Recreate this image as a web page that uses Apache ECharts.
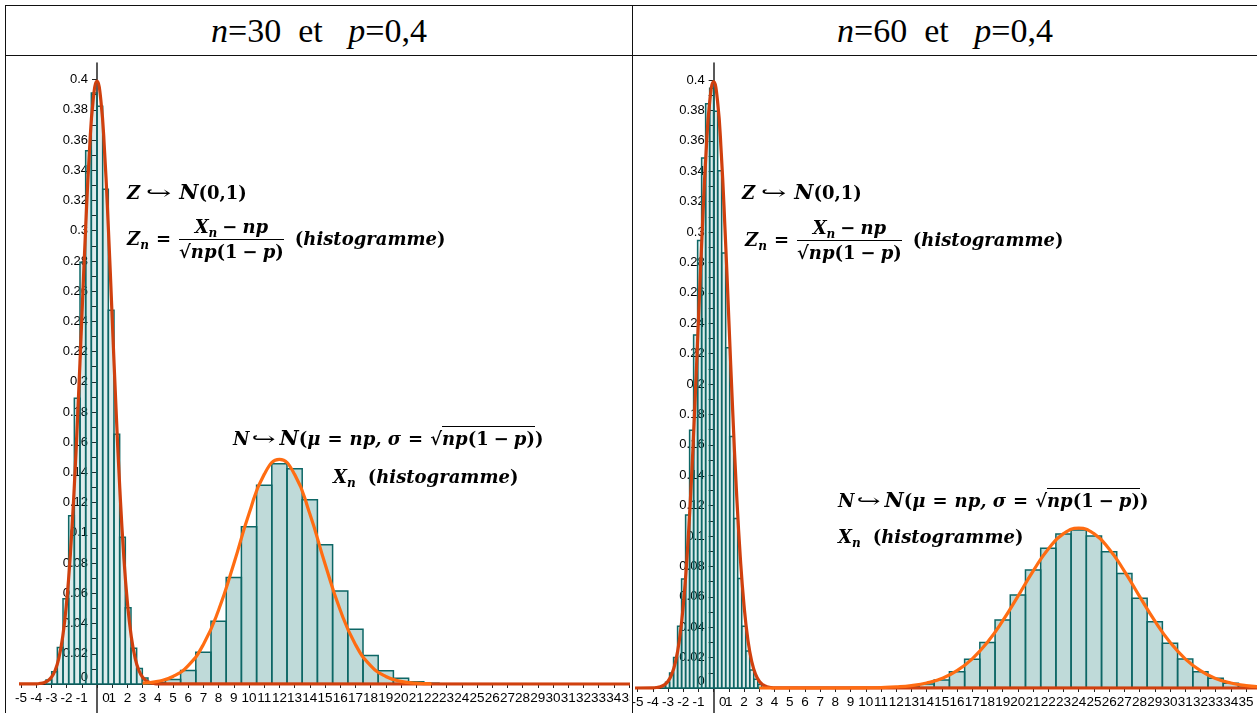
<!DOCTYPE html>
<html>
<head>
<meta charset="utf-8">
<script src="https://cdn.jsdelivr.net/npm/echarts@6.0.0/dist/echarts.min.js"></script>
<style>
    html, body {margin: 0; padding: 0; background: #fff; width: 1257px; height: 713px; overflow: hidden; position: relative;}
    .line {position: absolute; background: #111;}
    .head {position: absolute; top: 6px; height: 49px; line-height: 50px; text-align: center;
        font-family: 'Liberation Serif', 'Times New Roman', serif; font-size: 34px; white-space: pre;}
    .chart {position: absolute; top: 56px; height: 657px;}
    .math {position: absolute; font-family: 'DejaVu Serif', serif; font-weight: bold; font-style: italic;
        font-size: 18px; white-space: nowrap; line-height: 20px; color: #000;}
    .math .u {font-style: normal;}
    .arr {display: inline-block; font-style: normal; font-weight: normal; transform: scaleX(1.7); margin: 0 13px 0 11px;}
    .arr2 {display: inline-block; font-style: normal; font-weight: normal; transform: scaleX(1.6); margin: 0 8px 0 7px;}
    .cal {font-size: 21px;}
    .op {font-style: normal; margin: 0 5px;}
    .op6 {font-style: normal; margin: 0 7px;}
    .frac {display: inline-block; vertical-align: middle; text-align: center; margin: 0 11px 0 4px;}
    .num {display: block; border-bottom: 1.5px solid #000; padding: 0 2px 2px;}
    .den {display: block; padding-top: 2px;}
    .ov {border-top: 1.5px solid #000; padding-top: 1px;}
    sub {font-size: 12px; vertical-align: -4px; line-height: 0;}
</style>
</head>
<body>
<div class="line" style="left:5px;top:5px;width:1252px;height:1px"></div>
<div class="line" style="left:5px;top:55px;width:1252px;height:1px"></div>
<div class="line" style="left:5px;top:5px;width:1px;height:708px"></div>
<div class="line" style="left:632px;top:5px;width:1px;height:708px"></div>
<div class="head" style="left:6px;width:626px"><i>n</i>=30  et   <i>p</i>=0,4</div>
<div class="head" style="left:633px;width:624px"><i>n</i>=60  et   <i>p</i>=0,4</div>

<div id="chart30" class="chart" style="left:6px;width:624px"></div>
<div id="chart60" class="chart" style="left:633px;width:624px"></div>

<!-- annotations, n = 30 -->
<div class="math" style="left:127px;top:182px">Z<span class="arr">↪</span><span class="cal">N</span><span class="u">(0,1)</span></div>
<div class="math" style="left:127px;top:217px">Z<sub>n</sub><span class="op" style="margin:0 4px 0 7px">=</span><span class="frac"><span class="num">X<sub>n</sub><span class="op">−</span>np</span><span class="den"><span class="u">√</span><span class="ov">np<span class="u">(1</span><span class="op">−</span>p<span class="u">)</span></span></span></span><span class="u">(</span>histogramme<span class="u">)</span></div>
<div class="math" style="left:233px;top:428px">N<span class="arr2">↪</span><span class="cal">N</span><span class="u">(</span>μ<span class="op6">=</span>np, σ<span class="op6">=</span><span class="u">√</span><span class="ov">np<span class="u">(1</span><span class="op">−</span>p<span class="u">)</span></span><span class="u">)</span></div>
<div class="math" style="left:333px;top:467px">X<sub>n</sub><span style="margin-left:12px" class="u">(</span>histogramme<span class="u">)</span></div>

<!-- annotations, n = 60 -->
<div class="math" style="left:742px;top:182px">Z<span class="arr">↪</span><span class="cal">N</span><span class="u">(0,1)</span></div>
<div class="math" style="left:745px;top:218px">Z<sub>n</sub><span class="op" style="margin:0 4px 0 7px">=</span><span class="frac"><span class="num">X<sub>n</sub><span class="op">−</span>np</span><span class="den"><span class="u">√</span><span class="ov">np<span class="u">(1</span><span class="op">−</span>p<span class="u">)</span></span></span></span><span class="u">(</span>histogramme<span class="u">)</span></div>
<div class="math" style="left:838px;top:490px">N<span class="arr2">↪</span><span class="cal">N</span><span class="u">(</span>μ<span class="op6">=</span>np, σ<span class="op6">=</span><span class="u">√</span><span class="ov">np<span class="u">(1</span><span class="op">−</span>p<span class="u">)</span></span><span class="u">)</span></div>
<div class="math" style="left:838px;top:527px">X<sub>n</sub><span style="margin-left:12px" class="u">(</span>histogramme<span class="u">)</span></div>

<script>
// axes
const xTicks = [-5, -4, -3, -2, -1, 0, 1, 2, 3, 4, 5, 6, 7, 8, 9, 10, 11, 12, 13, 14, 15, 16, 17, 18, 19,
    20, 21, 22, 23, 24, 25, 26, 27, 28, 29, 30, 31, 32, 33, 34, 35];
const yTicks = [0, 0.01, 0.02, 0.03, 0.04, 0.05, 0.06, 0.07, 0.08, 0.09, 0.1, 0.11, 0.12, 0.13, 0.14,
    0.15, 0.16, 0.17, 0.18, 0.19, 0.2, 0.21, 0.22, 0.23, 0.24, 0.25, 0.26, 0.27, 0.28, 0.29, 0.3,
    0.31, 0.32, 0.33, 0.34, 0.35, 0.36, 0.37, 0.38, 0.39, 0.4];
const yLabels = [0, 0.02, 0.04, 0.06, 0.08, 0.1, 0.12, 0.14, 0.16, 0.18, 0.2, 0.22, 0.24, 0.26, 0.28,
    0.3, 0.32, 0.34, 0.36, 0.38, 0.4];

// frequences observees de X_n (n = 30)
const k30 = [4, 5, 6, 7, 8, 9, 10, 11, 12, 13, 14, 15, 16, 17, 18, 19, 20, 21, 22];
const freq30 = [0.001, 0.003, 0.009, 0.021, 0.0415, 0.0705, 0.104, 0.1315, 0.1458, 0.1425, 0.122,
    0.0922, 0.0616, 0.0362, 0.0188, 0.0088, 0.0038, 0.0015, 0.0005];

// frequences observees de X_n (n = 60)
const k60 = [12, 13, 14, 15, 16, 17, 18, 19, 20, 21, 22, 23, 24, 25, 26, 27, 28, 29, 30, 31, 32, 33,
    34, 35, 36];
const freq60 = [0.0004, 0.001, 0.0026, 0.0053, 0.0107, 0.0189, 0.030, 0.0447, 0.0612, 0.0776, 0.0919,
    0.1013, 0.104, 0.100, 0.0897, 0.0754, 0.059, 0.0436, 0.0294, 0.019, 0.0107, 0.0064, 0.0031,
    0.0015, 0.0006];

// courbe de N(0,1)
const zPts = [-5.5, -4, -3.75, -3.5, -3.25, -3, -2.75, -2.5, -2.25, -2, -1.75, -1.5, -1.25, -1, -0.75, -0.5,
    -0.25, 0, 0.25, 0.5, 0.75, 1, 1.25, 1.5, 1.75, 2, 2.25, 2.5, 2.75, 3, 3.25, 3.5, 3.75, 4, 36];
const phiPts = [0, 0.00013, 0.00035, 0.00087, 0.00203, 0.00443, 0.00909, 0.01753, 0.03174, 0.05399,
    0.08628, 0.12952, 0.18265, 0.24197, 0.30114, 0.35207, 0.38667, 0.39894, 0.38667, 0.35207,
    0.30114, 0.24197, 0.18265, 0.12952, 0.08628, 0.05399, 0.03174, 0.01753, 0.00909, 0.00443,
    0.00203, 0.00087, 0.00035, 0.00013, 0];

// courbe de N(np, sigma), n = 30
const xPts30 = [3, 4, 5, 6, 7, 8, 9, 10, 11, 12, 13, 14, 15, 16, 17, 18, 19, 20, 21, 22];
const dens30 = [0.00054, 0.00175, 0.00495, 0.0122, 0.0262, 0.04894, 0.07958, 0.11262, 0.13871,
    0.14868, 0.13871, 0.11262, 0.07958, 0.04894, 0.0262, 0.0122, 0.00495, 0.00175, 0.00054, 0.00014];

// courbe de N(np, sigma), n = 60
const xPts60 = [3, 6, 8, 9, 10, 11, 12, 13, 14, 15, 16, 17, 18, 19, 20, 21, 22, 23, 24, 25, 26, 27,
    28, 29, 30, 31, 32, 33, 34, 35, 36];
const dens60 = [0, 0, 0.00001, 0.00004, 0.00012, 0.0003, 0.00071, 0.00158, 0.00326, 0.00631, 0.01139,
    0.01918, 0.03012, 0.04413, 0.06032, 0.07691, 0.0915, 0.10154, 0.10513, 0.10154, 0.0915, 0.07691,
    0.06032, 0.04413, 0.03012, 0.01918, 0.01139, 0.00631, 0.00326, 0.00158, 0.00071];

const P = 0.4;
const X_MIN = -5;
const Y_MIN = -0.02;
const TEAL = '#0d6766';
const RED = '#d0400e';
const ORANGE = '#ff6c12';
const FONT = "'Liberation Sans', Arial, sans-serif";

function rectItem(fill) {
    return function (params, api) {
        const p0 = api.coord([api.value(0), api.value(2)]);
        const p1 = api.coord([api.value(1), 0]);
        return {
            type: 'rect',
            shape: {x: p0[0], y: p0[1], width: p1[0] - p0[0], height: p1[1] - p0[1]},
            style: {fill: fill, stroke: TEAL, lineWidth: 1.5}
        };
    };
}

// labels de l'axe x : entiers de xTicks, le 0 decale a droite
function xLabel(v) {
    const r = Math.round(v);
    if (Math.abs(v - r) > 1e-6 || xTicks.indexOf(r) < 0) return '';
    return r === 0 ? '{z|0}' : String(r);
}

// labels de l'axe y : valeurs de yLabels, le 0 remonte
function yLabel(v) {
    const r = Math.round(v * 100) / 100;
    if (Math.abs(v - r) > 1e-6 || yLabels.indexOf(r) < 0) return '';
    return r === 0 ? '{z|0}' : String(r);
}

function buildOption(cfg) {
    const n = cfg.n;
    const mu = n * P;
    const sigma = Math.sqrt(n * P * (1 - P));
    // histogramme de X_n : classes [k - 0.5, k + 0.5]
    const xBars = cfg.ks.map((k, i) => [k - 0.5, k + 0.5, cfg.freq[i]]);
    // histogramme de Z_n = (X_n - np) / sigma, densite = frequence * sigma
    const zBars = cfg.ks.map((k, i) => [(k - 1 - mu) / sigma, (k - mu) / sigma, cfg.freq[i] * sigma]);
    const redLine = zPts.map((z, i) => [z, phiPts[i]]);
    const orangeLine = cfg.xPts.map((x, i) => [x, cfg.dens[i]]);
    // axes croises en (0,0) : decalage depuis les bords de la grille
    const yAxisShift = cfg.width * (0 - X_MIN) / (cfg.xMax - X_MIN);
    const xAxisShift = cfg.height * (0 - Y_MIN) / (cfg.yMax - Y_MIN);

    return {
        animation: false,
        grid: {left: cfg.left, top: cfg.top, width: cfg.width, height: cfg.height, outerBoundsMode: 'none'},
        xAxis: {
            type: 'value', min: X_MIN, max: cfg.xMax, interval: 1, offset: -xAxisShift,
            splitLine: {show: false},
            axisLine: {onZero: false, lineStyle: {color: '#222', width: 1}},
            axisTick: {length: 4, customValues: xTicks, lineStyle: {color: '#222', width: 1}},
            axisLabel: {
                margin: 7, color: '#000', fontSize: 13.5, fontFamily: FONT,
                showMinLabel: true, showMaxLabel: true,
                formatter: xLabel,
                rich: {z: {padding: [0, 0, 0, 18], fontSize: 13.5, fontFamily: FONT, color: '#000'}}
            }
        },
        yAxis: {
            type: 'value', min: Y_MIN, max: cfg.yMax, interval: 0.01, offset: -yAxisShift,
            splitLine: {show: false},
            axisLine: {onZero: false, lineStyle: {color: '#222', width: 1.5}},
            axisTick: {length: 5, customValues: yTicks, lineStyle: {color: '#222', width: 1}},
            axisLabel: {
                margin: 9, color: '#000', fontSize: 13, fontFamily: FONT,
                showMinLabel: true, showMaxLabel: true,
                formatter: yLabel,
                rich: {z: {padding: [0, 0, 14, 0], fontSize: 13, fontFamily: FONT, color: '#000'}}
            }
        },
        series: [
            {
                type: 'custom', name: 'Xn', data: xBars, z: 2, clip: false,
                encode: {x: [0, 1], y: 2},
                renderItem: rectItem('rgba(0,107,103,0.25)')
            },
            {
                type: 'custom', name: 'Zn', data: zBars, z: 2, clip: false,
                encode: {x: [0, 1], y: 2},
                renderItem: rectItem('rgba(0,110,105,0.13)')
            },
            {
                type: 'line', name: 'N(0,1)', data: redLine, smooth: true, showSymbol: false, z: 3, clip: false,
                lineStyle: {color: RED, width: 3.2}
            },
            {
                type: 'line', name: 'N(np,sigma)', data: orangeLine, smooth: true, showSymbol: false, z: 4, clip: false,
                lineStyle: {color: ORANGE, width: 3.2}
            }
        ]
    };
}

const chart30 = echarts.init(document.getElementById('chart30'));
chart30.setOption(buildOption({
    n: 30, ks: k30, freq: freq30, xPts: xPts30, dens: dens30,
    left: 15, top: 7, width: 608, height: 651.2,
    xMax: 35, yMax: 0.411
}));

const chart60 = echarts.init(document.getElementById('chart60'));
chart60.setOption(buildOption({
    n: 60, ks: k60, freq: freq60, xPts: xPts60, dens: dens60,
    left: 4.6, top: 7, width: 620.6, height: 655.4,
    xMax: 35.8, yMax: 0.4112
}));
</script>
</body>
</html>
